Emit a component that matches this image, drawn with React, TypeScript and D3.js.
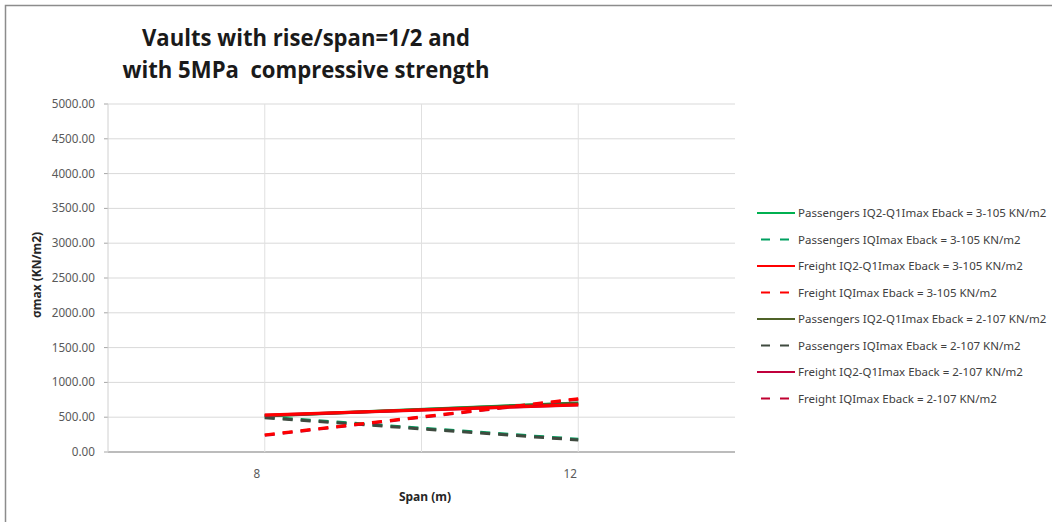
import React from "react";
import * as d3 from "d3";

const spans = [8, 12];
const xTickLabels = [8, 12];
const xGrid = [8, 10, 12];
const yTicks = [0, 500, 1000, 1500, 2000, 2500, 3000, 3500, 4000, 4500, 5000];

const seriesNames = [
  "Passengers IQ2-Q1Imax Eback = 3-105 KN/m2",
  "Passengers IQImax Eback = 3-105 KN/m2",
  "Freight IQ2-Q1Imax Eback = 3-105 KN/m2",
  "Freight IQImax Eback = 3-105 KN/m2",
  "Passengers IQ2-Q1Imax Eback = 2-107 KN/m2",
  "Passengers IQImax Eback = 2-107 KN/m2",
  "Freight IQ2-Q1Imax Eback = 2-107 KN/m2",
  "Freight IQImax Eback = 2-107 KN/m2",
];
const passengersSolid3 = [520, 705];
const passengersDashed3 = [503, 183];
const freightSolid3 = [532, 680];
const freightDashed3 = [246, 765];
const passengersSolid2 = [518, 700];
const passengersDashed2 = [493, 172];
const freightSolid2 = [528, 676];
const freightDashed2 = [240, 758];
const seriesValues = [
  passengersSolid3,
  passengersDashed3,
  freightSolid3,
  freightDashed3,
  passengersSolid2,
  passengersDashed2,
  freightSolid2,
  freightDashed2,
];
const seriesColors = ["#00b050", "#00a060", "#ff0000", "#ff0000", "#4f6228", "#3f4a3f", "#c0003c", "#c00030"];
const seriesDashed = [false, true, false, true, false, true, false, true];

export default function App() {
  const W = 1052;
  const H = 522;
  const left = 108;
  const right = 735;
  const top = 104;
  const bottom = 452;
  const x = d3.scaleLinear().domain([6, 14]).range([left, right]);
  const y = d3.scaleLinear().domain([0, 5000]).range([bottom, top]);
  const line = d3
    .line<number>()
    .x((_, i) => x(spans[i]))
    .y((d) => y(d));
  const drawOrder = [0, 4, 1, 5, 6, 2, 7, 3];
  const legendY0 = 213;
  const legendStep = 26.5;
  return (
    <div style={{ position: "absolute", left: 0, top: 0 }}>
      <svg width={W} height={H} style={{ display: "block", background: "#fff" }}>
        <rect x={5.5} y={5.5} width={1100} height={600} fill="#fff" stroke="#8c8c8c" strokeWidth={1.5} />
        <g fontFamily="'Open Sans', sans-serif" fontWeight="bold" fontSize={23} fill="#1a1a1a" textAnchor="middle">
          <text x={306} y={46} textLength={328} lengthAdjust="spacingAndGlyphs">
            Vaults with rise/span=1/2 and
          </text>
          <text x={306} y={78} textLength={367} lengthAdjust="spacingAndGlyphs" style={{ whiteSpace: "pre" }}>
            with 5MPa  compressive strength
          </text>
        </g>
        {yTicks.map((t) => (
          <g key={t}>
            <line x1={left} x2={right} y1={y(t)} y2={y(t)} stroke={t === 0 ? "#a6a6a6" : "#d9d9d9"} strokeWidth={t === 0 ? 1.5 : 1} />
            <line x1={left - 4} x2={left} y1={y(t)} y2={y(t)} stroke="#a6a6a6" />
            <text x={95} y={y(t) + 4} textAnchor="end" fontFamily="'Noto Sans', sans-serif" fontSize={11.7} fill="#595959">
              {t.toFixed(2)}
            </text>
          </g>
        ))}
        {xGrid.map((t) => (
          <line key={t} x1={x(t)} x2={x(t)} y1={top} y2={bottom} stroke="#e0e0e0" />
        ))}
        <line x1={left} x2={left} y1={top} y2={bottom} stroke="#d0d0d0" />
        {xTickLabels.map((t) => (
          <text key={t} x={x(t) - 8} y={478} textAnchor="middle" fontFamily="'Noto Sans', sans-serif" fontSize={11.7} fill="#595959">
            {t}
          </text>
        ))}
        <text x={425} y={501} textAnchor="middle" fontFamily="'Noto Sans', sans-serif" fontWeight="bold" fontSize={12} fill="#262626">
          Span (m)
        </text>
        <text
          transform={`translate(41,${(top + bottom) / 2 - 3}) rotate(-90)`}
          textAnchor="middle"
          fontFamily="'Noto Sans', sans-serif"
          fontWeight="bold"
          fontSize={12}
          fill="#262626"
        >
          σmax (KN/m2)
        </text>
        {drawOrder.map((i) => (
          <path
            key={i}
            d={line(seriesValues[i]) || ""}
            fill="none"
            stroke={seriesColors[i]}
            strokeWidth={3}
            strokeDasharray={seriesDashed[i] ? "10,8" : undefined}
          />
        ))}
        {seriesNames.map((name, i) => {
          const ly = legendY0 + i * legendStep;
          return (
            <g key={name}>
              <line
                x1={757}
                x2={795}
                y1={ly}
                y2={ly}
                stroke={seriesColors[i]}
                strokeWidth={2}
                strokeDasharray={seriesDashed[i] ? "9,10" : undefined}
                strokeDashoffset={seriesDashed[i] ? -4 : 0}
              />
              <text x={798} y={ly + 4} fontFamily="'Noto Sans', sans-serif" fontSize={11.5} fill="#404040">
                {name}
              </text>
            </g>
          );
        })}
      </svg>
    </div>
  );
}
